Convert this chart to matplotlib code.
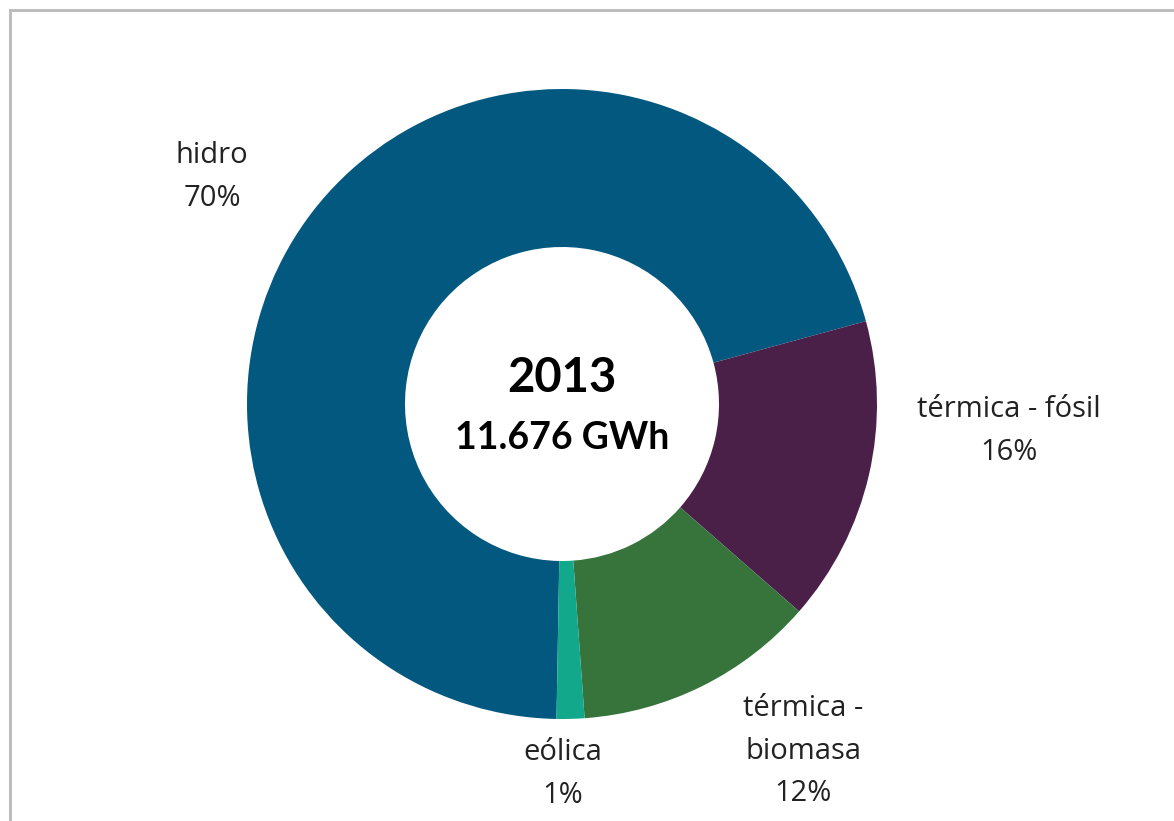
import matplotlib
matplotlib.use("Agg")
import matplotlib.pyplot as plt
from matplotlib.patches import Rectangle

plt.rcParams['font.family'] = ['Open Sans', 'DejaVu Sans']

# Data (GWh, 2013)
categories = ["hidro", "térmica - fósil", "térmica - biomasa", "eólica"]
label_lines = ["hidro", "térmica - fósil", "térmica -\nbiomasa", "eólica"]
values = [8230, 1830, 1450, 166]
colors = ["#03587F", "#4A2049", "#36743C", "#12A88C"]
year = "2013"
total_label = "11.676 GWh"

W, H = 1174, 821
fig = plt.figure(figsize=(W / 100, H / 100), dpi=100)
ax = fig.add_axes([0, 0, 1, 1])

cx, cy = 562, H - 404
R = 315
ax.pie(values, colors=colors, startangle=269, counterclock=False,
       center=(cx, cy), radius=R,
       wedgeprops=dict(width=158, edgecolor='none', linewidth=0))

ax.set_xlim(0, W)
ax.set_ylim(0, H)
ax.set_aspect('equal')
ax.axis('off')

# frame (left and top visible)
fig.patches.append(Rectangle((10 / W, -0.1), 1.2, (H - 10) / H + 0.1,
                             transform=fig.transFigure, fill=False,
                             edgecolor="#BDBDBD", linewidth=2.2))

total = sum(values)
pcts = [round(v / total * 100) for v in values]

# label anchor positions (pixel coords, top-origin) - block centre
label_pos = [(212, 177), (1009, 431), (803, 751), (563, 774)]
txt_color = "#222222"
for lab, p, (x, y) in zip(label_lines, pcts, label_pos):
    ax.text(x, H - y, f"{lab}\n{p}%", ha='center', va='center',
            fontsize=21, color=txt_color, linespacing=1.62)

ax.text(cx, H - 378, year, ha='center', va='center', fontsize=34,
        fontweight='bold', color='black', family=['Lato', 'DejaVu Sans'])
ax.text(cx, H - 438, total_label, ha='center', va='center', fontsize=27,
        fontweight='bold', color='black', family=['Lato', 'DejaVu Sans'])

fig.savefig("out.png", dpi=100)
